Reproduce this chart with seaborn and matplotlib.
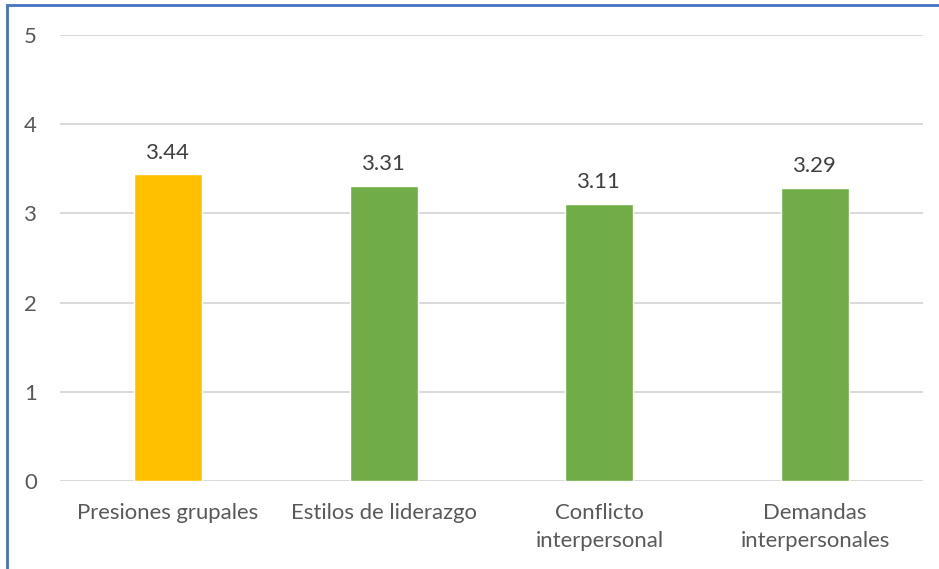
import matplotlib
matplotlib.use("Agg")
import matplotlib.pyplot as plt
import seaborn as sns
import pandas as pd
from matplotlib.patches import Rectangle

categories = ["Presiones grupales", "Estilos de liderazgo", "Conflicto\ninterpersonal", "Demandas\ninterpersonales"]
values = [3.44, 3.31, 3.11, 3.29]
colors = ["#FFC000", "#70AD47", "#70AD47", "#70AD47"]
yticks = [0, 1, 2, 3, 4, 5]

sns.set_style("white")
plt.rcParams['font.family'] = ['Lato', 'DejaVu Sans']

df = pd.DataFrame({"cat": categories, "val": values})

fig = plt.figure(figsize=(9.39, 5.69), dpi=100)
ax = fig.add_axes([60/939, 88/569, 863/939, 446/569])
sns.barplot(data=df, x="cat", y="val", hue="cat", palette=colors, legend=False,
            width=0.315, ax=ax, saturation=1)

ax.set_xlim(-0.5, 3.5)
ax.set_ylim(0, 5)
ax.set_yticks(yticks)
ax.yaxis.grid(True, color="#d9d9d9", linewidth=1.4)
ax.set_axisbelow(True)
for s in ["top", "right", "left", "bottom"]:
    ax.spines[s].set_visible(False)
ax.tick_params(axis="both", length=0, colors="#595959", labelsize=15.9)
ax.tick_params(axis="y", pad=16.5)
ax.tick_params(axis="x", pad=16)
for lbl in ax.get_xticklabels():
    lbl.set_linespacing(1.5)
ax.set_xlabel("")
ax.set_ylabel("")

for i, v in enumerate(values):
    ax.text(i, v + 0.13, f"{v:.2f}", ha="center", va="bottom", color="#404040", fontsize=15.9)

fig.patches.append(Rectangle((7/939, -0.1), 1.2, (569-5)/569 + 0.1, transform=fig.transFigure,
                             fill=False, edgecolor="#4472C4", linewidth=2, zorder=10))

fig.savefig("out.png", dpi=100)
